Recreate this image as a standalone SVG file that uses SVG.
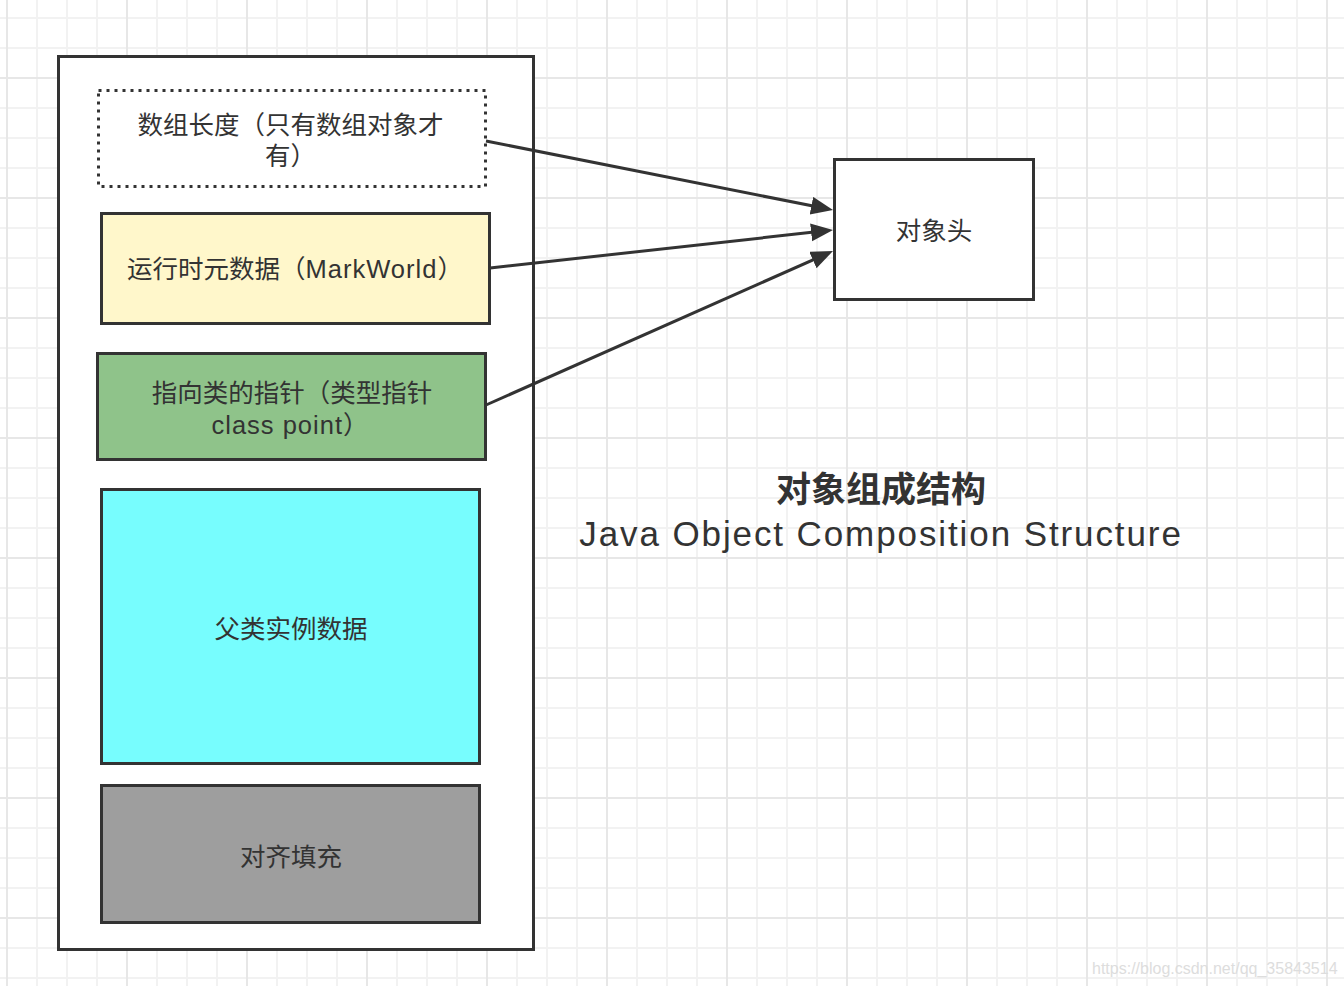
<svg xmlns="http://www.w3.org/2000/svg" width="1344" height="986" viewBox="0 0 1344 986">
  <defs>
    <pattern id="minor" patternUnits="userSpaceOnUse" x="6" y="17" width="30" height="30">
      <rect x="0" y="0" width="2" height="30" fill="#f2f2f2"/>
      <rect x="0" y="0" width="30" height="2" fill="#f2f2f2"/>
    </pattern>
    <pattern id="major" patternUnits="userSpaceOnUse" x="6" y="77" width="120" height="120">
      <rect x="0" y="0" width="2" height="120" fill="#e7e7e7"/>
      <rect x="0" y="0" width="120" height="2" fill="#e7e7e7"/>
    </pattern>
    <marker id="arrow" markerUnits="userSpaceOnUse" markerWidth="24" markerHeight="20" refX="12" refY="9" orient="auto">
      <path d="M0,0 L22,9 L0,18 Z" fill="#333333"/>
    </marker>
    <style>
      .box { stroke: #333333; stroke-width: 3; }
      .lbl { font-family: "Liberation Sans", "Noto Sans CJK SC", sans-serif; font-size: 25.5px; fill: #333333; text-anchor: middle; }
      .lat { letter-spacing: 1px; }
      .conn { stroke: #333333; stroke-width: 3; fill: none; marker-end: url(#arrow); }
    </style>
  </defs>

  <rect width="1344" height="986" fill="#ffffff"/>
  <rect width="1344" height="986" fill="url(#minor)"/>
  <rect width="1344" height="986" fill="url(#major)"/>

  <g id="container">
    <rect x="58.5" y="56.5" width="475" height="893" fill="#ffffff" class="box"/>
  </g>

  <g id="array-length">
    <rect x="98.5" y="90.5" width="387" height="96" fill="#ffffff" stroke="#333333" stroke-width="3" stroke-dasharray="3 5"/>
    <text class="lbl" x="290.5" y="134">数组长度（只有数组对象才</text>
    <text class="lbl" x="290.5" y="165">有）</text>
  </g>

  <g id="mark-word">
    <rect x="101.5" y="213.5" width="388" height="110" fill="#fff7cb" class="box"/>
    <text class="lbl" x="295" y="278">运行时元数据（<tspan class="lat">MarkWorld</tspan>）</text>
  </g>

  <g id="class-pointer">
    <rect x="97.5" y="353.5" width="388" height="106" fill="#8fc38a" class="box"/>
    <text class="lbl" x="292" y="402">指向类的指针（类型指针</text>
    <text class="lbl" x="290" y="434"><tspan class="lat">class point</tspan>）</text>
  </g>

  <g id="instance-data">
    <rect x="101.5" y="489.5" width="378" height="274" fill="#77fdfe" class="box"/>
    <text class="lbl" x="291" y="638">父类实例数据</text>
  </g>

  <g id="padding">
    <rect x="101.5" y="785.5" width="378" height="137" fill="#9e9e9e" class="box"/>
    <text class="lbl" x="291" y="866">对齐填充</text>
  </g>

  <g id="object-header">
    <rect x="834.5" y="159.5" width="199" height="140" fill="#ffffff" class="box"/>
    <text class="lbl" x="934" y="240">对象头</text>
  </g>

  <g id="connectors">
    <line class="conn" x1="486" y1="141" x2="823.2" y2="208.05"/>
    <line class="conn" x1="490" y1="268" x2="823.06" y2="231.1"/>
    <line class="conn" x1="486" y1="405" x2="823.86" y2="255.06"/>
  </g>

  <g id="title">
    <text x="881" y="502" font-family="Liberation Sans, Noto Sans CJK SC, sans-serif" font-size="35" font-weight="bold" fill="#333333" text-anchor="middle">对象组成结构</text>
    <text x="881" y="546" font-family="Liberation Sans, Noto Sans CJK SC, sans-serif" font-size="35" letter-spacing="1.9" fill="#333333" text-anchor="middle">Java Object Composition Structure</text>
  </g>

  <text x="1092" y="974" font-family="Liberation Sans, sans-serif" font-size="16" fill="#dddddd">https://blog.csdn.net/qq_35843514</text>
</svg>
